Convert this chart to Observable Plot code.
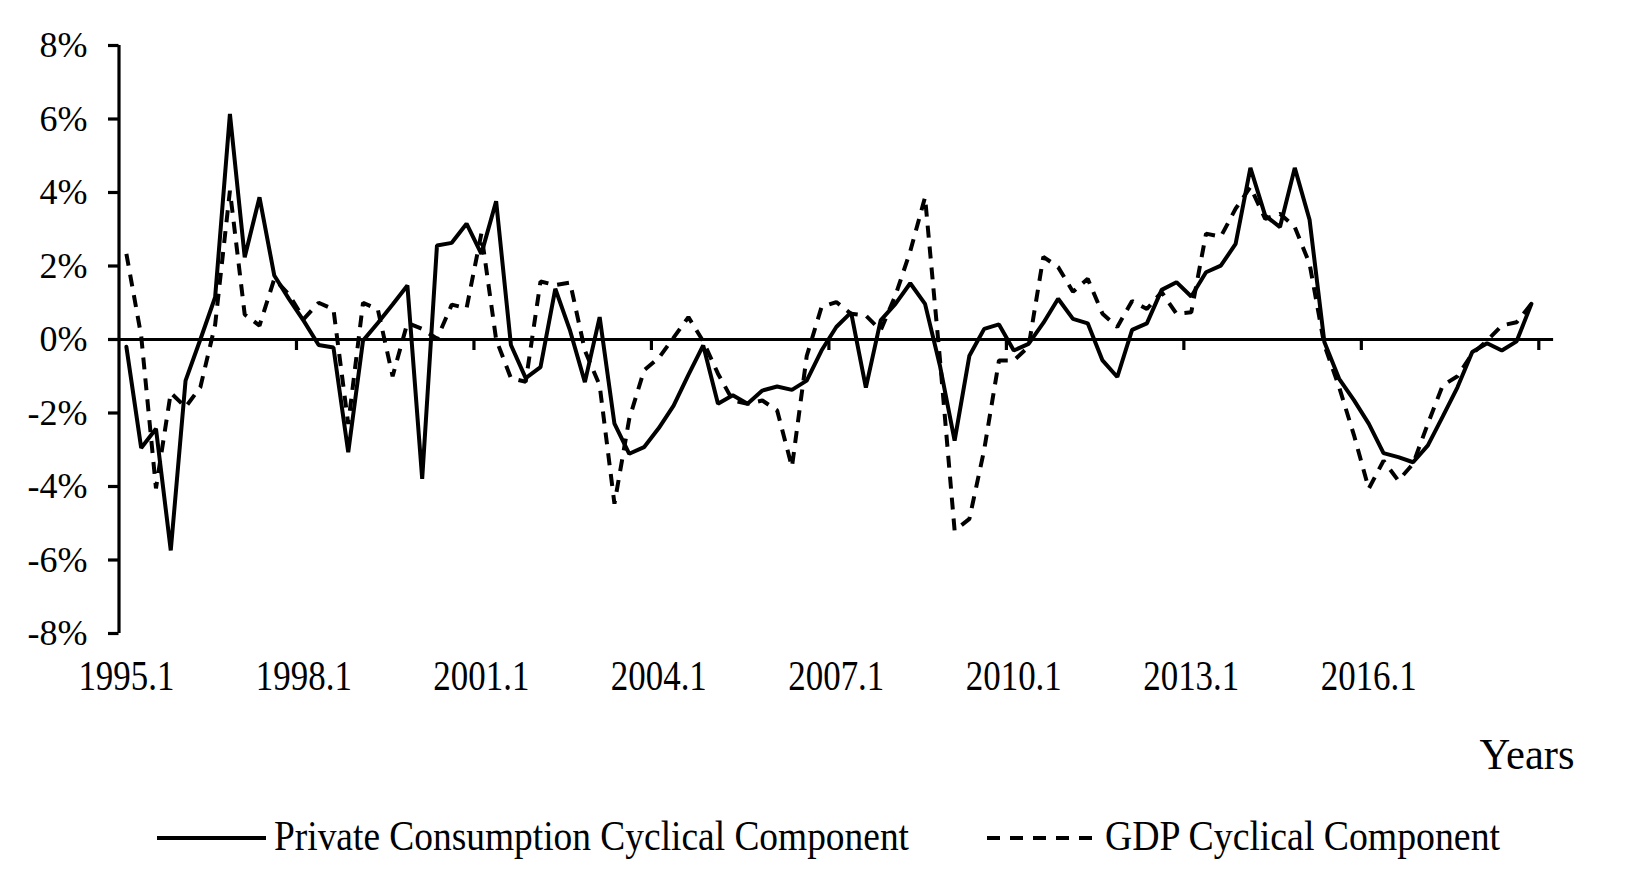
<!DOCTYPE html>
<html><head><meta charset="utf-8">
<script src="https://cdn.jsdelivr.net/npm/d3@7"></script>
<script src="https://cdn.jsdelivr.net/npm/@observablehq/plot@0.6"></script>
<style>
html,body{margin:0;padding:0;background:#fff;}
#chart svg,#legend svg{display:block;}
</style></head>
<body><div id="chart"></div><div id="legend"></div>
<script>
// Quarterly cyclical components (%), 1995.1 – 2018.4
const consumption = [
  -0.2, -2.95, -2.43, -5.74, -1.12, 0.0, 1.15, 6.14, 2.24, 3.87,
  1.74, 1.1, 0.5, -0.15, -0.22, -3.07, -0.03, 0.45, 0.95, 1.47,
  -3.79, 2.56, 2.63, 3.15, 2.33, 3.76, -0.15, -1.05, -0.75, 1.38,
  0.24, -1.16, 0.61, -2.29, -3.11, -2.93, -2.41, -1.8, -0.96, -0.16,
  -1.75, -1.52, -1.75, -1.39, -1.28, -1.37, -1.12, -0.3, 0.34, 0.74,
  -1.31, 0.52, 0.97, 1.53, 0.97, -0.7, -2.75, -0.44, 0.29, 0.41,
  -0.3, -0.12, 0.45, 1.11, 0.56, 0.44, -0.57, -1.02, 0.26, 0.44,
  1.35, 1.56, 1.17, 1.83, 2.01, 2.6, 4.67, 3.37, 3.06, 4.67,
  3.26, -0.07, -1.07, -1.65, -2.29, -3.09, -3.2, -3.34, -2.88, -2.1,
  -1.3, -0.34, -0.1, -0.3, -0.05, 0.97
];
const gdp = [
  2.33, 0.1, -4.05, -1.45, -1.84, -1.3, 0.4, 4.05, 0.68, 0.38,
  1.65, 1.22, 0.56, 1.0, 0.82, -2.3, 1.0, 0.82, -1.0, 0.45,
  0.29, 0.02, 0.95, 0.85, 2.88, 0.0, -1.05, -1.15, 1.58, 1.48,
  1.55, -0.3, -1.25, -4.47, -2.16, -0.84, -0.5, 0.05, 0.61, -0.05,
  -0.93, -1.66, -1.75, -1.66, -1.93, -3.47, -0.45, 0.88, 1.02, 0.7,
  0.65, 0.25, 1.2, 2.4, 3.87, -0.5, -5.2, -4.88, -3.0, -0.57,
  -0.57, -0.2, 2.25, 1.97, 1.3, 1.65, 0.7, 0.34, 1.05, 0.83,
  1.29, 0.7, 0.74, 2.88, 2.8, 3.56, 4.15, 3.28, 3.42, 3.06,
  2.06, -0.15, -1.3, -2.6, -4.06, -3.3, -3.84, -3.38, -2.29, -1.25,
  -1.0, -0.39, -0.03, 0.38, 0.47, 0.97
];
const tickLabels = ["1995.1","1998.1","2001.1","2004.1","2007.1","2010.1","2013.1","2016.1"];
const labelIndex = [0, 12, 24, 36, 48, 60, 72, 84];
const boundaryTicks = [11.5, 23.5, 35.5, 47.5, 59.5, 71.5, 83.5, 95.5];
const yTicks = [-8, -6, -4, -2, 0, 2, 4, 6, 8];
const seriesNames = ["Private Consumption Cyclical Component", "GDP Cyclical Component"];
const xTitle = "Years";

const W = 1639, H = 790;
const FONT = "'Liberation Serif', 'Times New Roman', serif";

const chart = Plot.plot({
  width: W, height: H,
  marginLeft: 118.5, marginRight: 85.9, marginTop: 45, marginBottom: 157,
  style: {fontFamily: FONT, background: "white", color: "black", overflow: "visible"},
  x: {domain: [-0.5, 96.5], label: null},
  y: {domain: [-8, 8], label: null},
  marks: [
    Plot.ruleY([0], {stroke: "black", strokeWidth: 3.2}),
    Plot.ruleX([-0.5], {stroke: "black", strokeWidth: 3.2}),
    Plot.ruleX(boundaryTicks, {x: d => d, y1: 0, y2: -0.3, stroke: "black", strokeWidth: 3.2}),
    Plot.axisY({ticks: yTicks, tickSize: 10.5, tickPadding: 21, strokeWidth: 3.2,
      tickFormat: d => d + "%", fontSize: 36}),
    Plot.axisX({ticks: labelIndex, tickSize: 0, tickPadding: 27,
      tickFormat: d => tickLabels[labelIndex.indexOf(d)], fontSize: 42}),
    Plot.line(gdp, {x: (d, i) => i, y: d => d, stroke: "black", strokeWidth: 4,
      strokeDasharray: "12,9", strokeLinecap: "butt", strokeLinejoin: "miter"}),
    Plot.line(consumption, {x: (d, i) => i, y: d => d, stroke: "black", strokeWidth: 4,
      strokeLinejoin: "miter"}),
    Plot.text([xTitle], {text: d => d, frameAnchor: "bottom-right", textAnchor: "end",
      lineAnchor: "bottom", dx: 21, dy: 135, fontSize: 44})
  ]
});

chart.querySelectorAll('[aria-label="x-axis tick label"] text').forEach(t => {
  t.setAttribute("textLength", 96);
  t.setAttribute("lengthAdjust", "spacingAndGlyphs");
});
chart.querySelectorAll("text").forEach(t => {
  if (t.textContent === xTitle) {
    t.setAttribute("textLength", 95);
    t.setAttribute("lengthAdjust", "spacingAndGlyphs");
  }
});
document.getElementById("chart").appendChild(chart);

// Legend below the chart
const lg = d3.select("#legend").append("svg")
  .attr("width", W).attr("height", 105)
  .style("font-family", FONT);
const items = [
  {name: seriesNames[0], x1: 157, x2: 266, tx: 274, tl: 635, dash: null},
  {name: seriesNames[1], x1: 987, x2: 1092, tx: 1105, tl: 395, dash: "13,10"}
];
items.forEach(it => {
  lg.append("line").attr("x1", it.x1).attr("x2", it.x2).attr("y1", 48).attr("y2", 48)
    .attr("stroke", "black").attr("stroke-width", 3.8)
    .attr("stroke-dasharray", it.dash);
  lg.append("text").attr("x", it.tx).attr("y", 60).attr("font-size", 42)
    .attr("textLength", it.tl).attr("lengthAdjust", "spacingAndGlyphs")
    .attr("fill", "black").text(it.name);
});
</script>
</body></html>
